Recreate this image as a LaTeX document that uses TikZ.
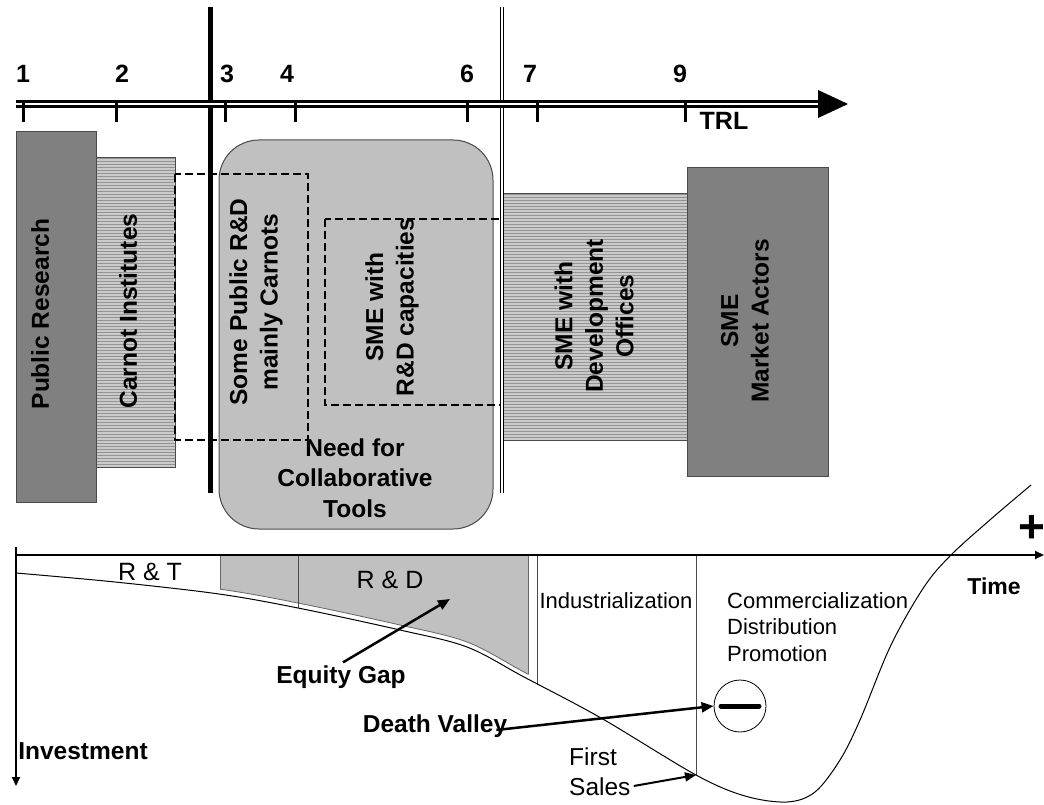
\documentclass[tikz,border=0pt]{standalone}
\usepackage{fontspec}
\setmainfont{Liberation Sans}
\usetikzlibrary{arrows.meta,calc}
\definecolor{darkbox}{HTML}{808080}
\definecolor{lightbox}{HTML}{C0C0C0}
\definecolor{stripeA}{HTML}{CACACA}
\definecolor{stripeB}{HTML}{949494}
\definecolor{edge}{HTML}{4A4A4A}
\begin{document}
\begin{tikzpicture}[x=1pt,y=-1pt,
  boldlbl/.style={font=\fontsize{24.5}{30.5}\selectfont\bfseries, align=center, inner sep=0pt},
  vlbl/.style={boldlbl, rotate=90},
  reglbl/.style={font=\fontsize{25}{30}\selectfont, inner sep=0pt},
  smalllbl/.style={font=\fontsize{22}{26.5}\selectfont, inner sep=0pt},
  numlbl/.style={font=\fontsize{25}{30}\selectfont\bfseries, inner sep=0pt},
  dashbox/.style={draw=black, line width=1.3pt, dash pattern=on 8pt off 4pt},
  tickmark/.style={line width=3pt},
  ptr/.style={line width=2.5pt, -{Triangle[length=12pt,width=10pt]}},
  thinsep/.style={draw=edge, line width=0.9pt},
]
\useasboundingbox (0,0) rectangle (1044,805);
\fill[white] (0,0) rectangle (1044,805);

% ---------- upper part: actors ----------
% Carnot Institutes (striped)
\fill[stripeA] (96,157) rectangle (175,467);
\foreach \yy in {158.5,161.5,...,466} {\draw[stripeB,line width=1.5pt] (96,\yy) -- (175,\yy);}
\draw[edge,line width=0.7pt] (96,157) rectangle (175,467);
% Public Research
\draw[edge,fill=darkbox,line width=0.8pt] (16,131) rectangle (96,502);
% SME with Development Offices (striped)
\fill[stripeA] (503,193) rectangle (687,440);
\foreach \yy in {194.5,197.5,...,439} {\draw[stripeB,line width=1.5pt] (503,\yy) -- (687,\yy);}
\draw[edge,line width=0.7pt] (503,193) rectangle (687,440);
% SME Market Actors
\draw[edge,fill=darkbox,line width=0.8pt] (687,167) rectangle (828,476);
% Collaborative rounded box
\draw[edge,fill=lightbox,line width=1pt,rounded corners=40pt] (219,140) rectangle (493,529);
% dashed boxes
\draw[dashbox] (175,174) rectangle (308,440);
\draw[dashbox] (325,219) rectangle (502,405);
% separator lines
\draw[line width=5pt] (210,7) -- (210,493);
\draw[line width=1pt,double=white,double distance=1.8pt] (502,7) -- (502,493);

% TRL axis
\draw[line width=3pt,double=white,double distance=2pt] (16,104) -- (820,104);
\fill (818,90) -- (848,104) -- (818,118) -- cycle;
\foreach \tx in {23,116,225,295,467,537,685} {\draw[tickmark] (\tx,100) -- (\tx,122);}
\node[numlbl] (n1) at (23,74) {1};
\node[numlbl] (n2) at (122,74) {2};
\node[numlbl] (n3) at (227,74) {3};
\node[numlbl] (n4) at (287,74) {4};
\node[numlbl] (n6) at (467,74) {6};
\node[numlbl] (n7) at (530,74) {7};
\node[numlbl] (n9) at (680,74) {9};
\node[numlbl] (trl) at (724,121) {TRL};

% actor labels
\node[vlbl] (pr) at (40,314) {Public Research};
\node[vlbl] (ci) at (128,311) {Carnot Institutes};
\node[vlbl] (sp) at (256,302) {Some Public R\&D\\mainly Carnots};
\node[vlbl] (smerd) at (392,307) {SME with\\R\&D capacities};
\node[boldlbl] (need) at (355,478) {Need for\\Collaborative\\Tools};
\node[vlbl] (smedev) at (594,316) {SME with\\Development\\Offices};
\node[vlbl] (smemk) at (745,321) {SME\\Market Actors};

% ---------- lower part: investment curve ----------
% gray R&D area above the curve
\begin{scope}
\clip (16,540) -- plot[smooth,tension=0.55] coordinates {(16,568) (115,577) (219,589) (298,603) (400,625) (467,642) (524,672) (601,713)} -- (601,540) -- cycle;
\fill[lightbox] (220,555) rectangle (528,720);
\draw[draw=gray!80!black,line width=0.8pt] (220,555) -- (220,720) (528,555) -- (528,720);
\end{scope}
\begin{scope}
\clip (220,540) rectangle (528,720);
\draw[gray!80!black,line width=0.8pt] plot[smooth,tension=0.55] coordinates {(16,568) (115,577) (219,589) (298,603) (400,625) (467,642) (524,672) (601,713)};
\end{scope}
% phase separators
\draw[thinsep] (298,555) -- (298,608);
\draw[thinsep] (537,555) -- (537,685);
\draw[thinsep] (696,555) -- (696,775);
% investment curve
\draw[line width=1pt] plot[smooth,tension=0.55] coordinates {(16,573) (115,582) (219,594) (298,608) (400,630) (467,647) (524,677) (601,718) (696,775) (745,796) (787,802) (815,792) (840,760) (860,720) (891,645) (924,587) (951,555) (991,519) (1031,485)};
% axes
\draw[line width=1.8pt,-{Triangle[length=9pt,width=8pt]}] (16,555) -- (1044,555);
\draw[line width=1.8pt,-{Triangle[length=9pt,width=8pt]}] (16,547) -- (16,786);

% lower labels
\node[reglbl] (rt) at (150,572) {R \& T};
\node[reglbl] (rd) at (390,580) {R \& D};
\node[smalllbl] (ind) at (616,601) {Industrialization};
\node[smalllbl,align=left,anchor=west] (comm) at (727,627) {Commercialization\\Distribution\\Promotion};
\node[boldlbl,font=\fontsize{23}{28}\selectfont\bfseries] (time) at (994,586) {Time};
\node[boldlbl,font=\fontsize{46}{50}\selectfont\bfseries] (plus) at (1032,529) {+};
\node[boldlbl] (eq) at (341,677) {Equity Gap};
\node[boldlbl] (dv) at (435,726) {Death Valley};
\node[boldlbl] (inv) at (83,751) {Investment};
\node[reglbl,font=\fontsize{24.5}{30}\selectfont,anchor=west] (first) at (569,757) {First};
\node[reglbl,font=\fontsize{24.5}{30}\selectfont,anchor=west] (sales) at (569,787) {Sales};

% minus sign in circle
\node[circle,draw,line width=0.8pt,minimum size=52pt,inner sep=0pt] (minus) at (740,706) {};
\draw[line width=5pt,line cap=round] ($(minus.center)+(-19,0)$) -- ($(minus.center)+(19,0)$);

% pointers
\coordinate (eqtip) at (450,599);
\coordinate (fstip) at (696,775);
\draw[ptr] ($(eq.north)+(2,-3)$) -- (eqtip);
\draw[ptr] ($(dv.east)+(-11,4)$) -- (minus.west);
\draw[line width=2pt,-{Triangle[length=11pt,width=9pt]}] ($(sales.east)+(3,-1)$) -- (fstip);
\end{tikzpicture}
\end{document}
